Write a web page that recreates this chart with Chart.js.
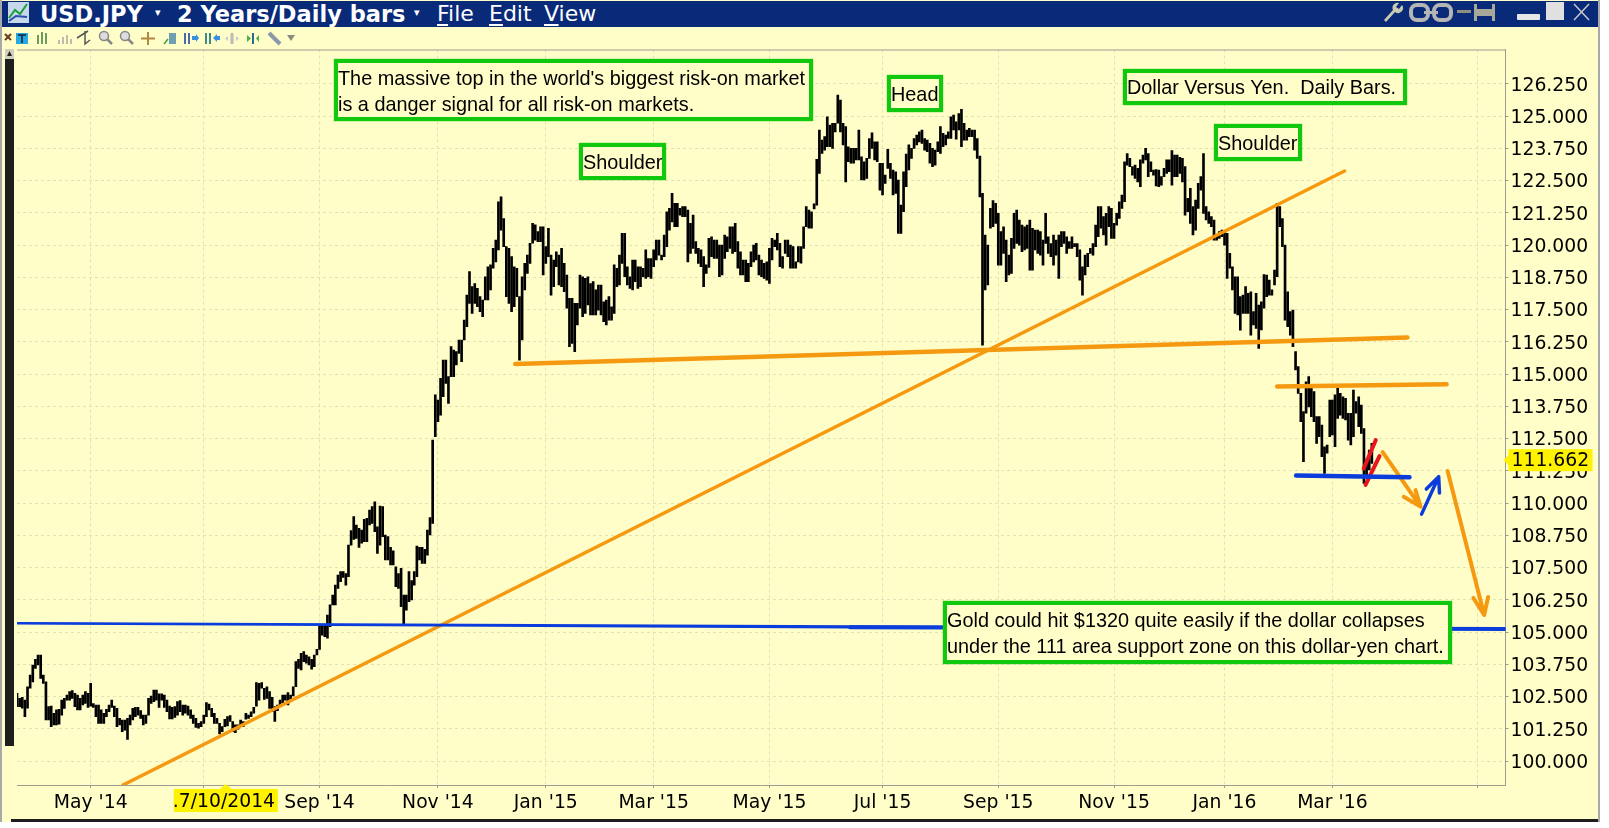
<!DOCTYPE html>
<html>
<head>
<meta charset="utf-8">
<title>USD.JPY</title>
<script src="https://cdn.jsdelivr.net/npm/chart.js@4"></script>
<style>
html,body{margin:0;padding:0;background:#fff;overflow:hidden;}
#win{position:absolute;left:0;top:0;width:1600px;height:822px;background:#FFFDC8;border-left:2px solid #a9a9a9;border-right:2px solid #a9a9a9;box-sizing:border-box;overflow:hidden;}
#bar{position:absolute;left:0;top:1px;width:1596px;height:26px;background:#082A78;color:#fff;font:bold 22.5px "DejaVu Sans";line-height:26px;white-space:nowrap;}
#bar span{position:absolute;top:0;}
#bar .menu{font-weight:normal;font-size:22px;}
#bar u{text-underline-offset:3px;}
#bar .arr{font-size:11px;top:-1px;}
#scroll{position:absolute;left:3px;top:49px;width:9px;height:697px;background:#1e1e1e;}
#bottom{position:absolute;left:9px;top:819px;width:1587px;height:3px;background:#1d1d1d;}
#chartBox{position:absolute;left:0;top:0;width:1609px;height:828px;}
.note{position:absolute;box-sizing:border-box;border:4px solid #10C80E;box-shadow:0 0 1px #10C80E;background:#FFFDC8;color:#000;font:19.85px "Liberation Sans";line-height:26px;padding:0;white-space:nowrap;}
</style>
</head>
<body>
<div id="win">
  <div id="bar">
    <span style="left:38px">USD.JPY</span>
    <span class="arr" style="left:153px">&#9662;</span>
    <span style="left:175px">2 Years/Daily bars</span>
    <span class="arr" style="left:412px">&#9662;</span>
    <span class="menu" style="left:435px"><u>F</u>ile</span>
    <span class="menu" style="left:487px"><u>E</u>dit</span>
    <span class="menu" style="left:542px"><u>V</u>iew</span>
  </div>
  <div id="scroll"></div>
  <div id="bottom"></div>
</div>
<svg style="position:absolute;left:0;top:0" width="1609" height="60">
  <!-- title bar icons -->
  <rect x="8" y="2" width="21" height="21" fill="#c8d8ec"/>
  <polyline points="9,18 15,10 20,14 27,4" fill="none" stroke="#1aa03a" stroke-width="2"/>
  <polyline points="9,21 16,16 27,17" fill="none" stroke="#2a50b0" stroke-width="2"/>
  <path d="M1384 20 l9 -10 a5 5 0 0 1 6 -7 l-3 4 3 2 3 -4 a5 5 0 0 1 -7 7 l-9 10z" fill="#c9c9b4"/>
  <rect x="1411" y="5" width="17" height="15" rx="6" fill="none" stroke="#b5b5b5" stroke-width="4"/>
  <rect x="1434" y="5" width="17" height="15" rx="6" fill="none" stroke="#b5b5b5" stroke-width="4"/>
  <rect x="1424" y="11" width="14" height="3" fill="#b5b5b5"/>
  <rect x="1457" y="10" width="14" height="3" fill="#8d8d80"/>
  <path d="M1474 4 h3 v5 h15 v-5 h3 v17 h-3 v-5 h-15 v5 h-3z" fill="#a8a898"/>
  <rect x="1517" y="14" width="23" height="6" rx="1" fill="#e6e6e6"/>
  <rect x="1546" y="2" width="18" height="18" fill="#e0e0e0"/>
  <path d="M1574 4 L1589 20 M1589 4 L1574 20" stroke="#c8c8c8" stroke-width="1.5"/>
  <!-- toolbar icons -->
  <path d="M5 34 L11 40 M11 34 L5 40" stroke="#6a3a20" stroke-width="2"/>
  <rect x="16" y="33" width="12" height="11" fill="#28a8e0"/>
  <path d="M18 35 h8 M22 35 v8" stroke="#123" stroke-width="1.5"/>
  <path d="M38 35 v9 M42 32 v12 M46 33 v11" stroke="#3d7d3d" stroke-width="1.5"/>
  <path d="M59 44 v-4 M63 44 v-7 M67 44 v-9 M71 44 v-5" stroke="#bdbdb0" stroke-width="2"/>
  <path d="M77 38 L88 31 M85 31 L85 44 L90 40" stroke="#555" stroke-width="1.5" fill="none"/>
  <circle cx="104" cy="36" r="4.5" fill="#ddd" stroke="#888" stroke-width="1.5"/><path d="M107 39 L112 44" stroke="#888" stroke-width="2.5"/>
  <circle cx="125" cy="36" r="4.5" fill="#ddd" stroke="#888" stroke-width="1.5"/><path d="M128 39 L133 44" stroke="#888" stroke-width="2.5"/>
  <path d="M141 38.5 h14 M148 32 v13" stroke="#b08840" stroke-width="2"/>
  <path d="M164 44 l4 -5" stroke="#3da03d" stroke-width="1.5"/><rect x="169" y="33" width="7" height="11" fill="#6f9fb0"/>
  <path d="M185 33 v11 M189 33 v11" stroke="#4a6ab0" stroke-width="2"/><path d="M192 36 h4 v-2 l3 4 -3 4 v-2 h-4z" fill="#3a90e0"/>
  <path d="M206 33 v11 M210 33 v11" stroke="#3a8a8a" stroke-width="2"/><path d="M220 36 h-3 v-2 l-4 4 4 4 v-2 h3z" fill="#3a90e0"/>
  <path d="M232 33 v11" stroke="#bbb" stroke-width="3"/><path d="M228 36 l-3 2.500 3 2.500z M236 36 l3 2.500 -3 2.500z" fill="#ccc"/>
  <path d="M253 33 v11" stroke="#2a6a90" stroke-width="2"/><path d="M247 35 l4 3.500 -4 3.500z M259 35 l-3 3.500 3 3.500z" fill="#4ab04a"/>
  <path d="M269 33 L280 44" stroke="#8a9aa8" stroke-width="4"/>
  <path d="M287 35 h8 l-4 6z" fill="#8a8a80"/>
  <!-- scrollbar end pieces -->
  <rect x="5" y="49" width="9" height="10" fill="#cfcfc0"/><path d="M7 56 l2.500 -5 2.500 5z" fill="#222"/>
  <rect x="5" y="741" width="9" height="9" fill="#9a9a92"/><path d="M7 743 l2.500 5 2.500 -5z" fill="#222"/>
  <path d="M9.500 754 v13" stroke="#2a8a9a" stroke-width="3"/><path d="M5 759 l4.500 -6 4.500 6z M5 762 l4.500 6 4.500 -6z" fill="#2a8a9a"/>
  <rect x="6" y="777" width="7" height="7" fill="#dedecf"/>
</svg>
<div id="chartBox"><canvas id="graphicFirst" width="1609" height="828"></canvas></div>

<div class="note" style="left:334px;top:59px;width:479px;height:62px;padding-top:2px">The massive top in the world's biggest risk-on market<br>is a danger signal for all risk-on markets.</div>
<div class="note" style="left:579px;top:143px;width:87px;height:37px;padding-top:2px">Shoulder</div>
<div class="note" style="left:887px;top:75px;width:56px;height:37px;padding-top:2px">Head</div>
<div class="note" style="left:1123px;top:69px;width:284px;height:36px;padding-top:1px">Dollar Versus Yen.&nbsp; Daily Bars.</div>
<div class="note" style="left:1214px;top:124px;width:88px;height:37px;padding-top:2px">Shoulder</div>
<div class="note" style="left:943px;top:601px;width:509px;height:63px;padding-top:2px">Gold could hit $1320 quite easily if the dollar collapses<br>under the 111 area support zone on this dollar-yen chart.</div>

<script>
//-----Variables
// daily bars, [high, low]
const bars2014a = [
[102.62,102.11],[102.43,102.11],[102.47,102.05],[102.36,101.72],[102.88,102.05],[103.33,102.82],[103.72,103.07],
[103.94,103.59],[104.11,103.72],[104.11,103.20],[103.33,103.01],[103.07,101.59],[102.11,101.59],[102.13,101.33],[101.85,101.40],
[101.98,101.40],[102.00,101.43],[102.36,101.78],[102.43,102.04],[102.56,102.36],[102.69,102.36],[102.73,102.43],[102.62,102.11],
[102.56,101.98],[102.43,101.98],[102.56,102.17],[102.69,102.23],[102.62,102.08],[103.01,102.13],[102.23,102.08],
[102.17,101.72],[102.17,101.46],[101.98,101.46],[101.85,101.46],[102.00,101.72],[102.17,101.91],[102.36,102.08],[102.13,101.72],
[102.04,101.33],[101.65,101.40],[101.59,101.14],[101.59,101.20],[101.65,100.84],[101.78,101.40],[102.04,101.59],[102.08,101.72],
[102.08,101.78],[101.95,101.65],[101.78,101.40],[101.78,101.46],[102.43,101.78],[102.52,102.23],[102.75,102.30],[102.75,102.36],
[102.60,102.08],[102.60,102.36],[102.56,102.08],[102.36,101.91],[102.13,101.63],[102.08,101.63],[102.11,101.69],[102.30,101.78],
[102.34,101.91],[102.17,101.78],[102.17,101.85],[102.13,101.78],[101.98,101.65],[101.78,101.46],[101.65,101.30],
[101.46,101.27],[101.53,101.33],[101.78,101.46],[102.26,101.72],[102.21,101.98],[102.04,101.72],[101.85,101.46],[101.65,101.46],
[101.46,101.05],[101.33,101.14],[101.62,101.33],[101.72,101.36],[101.76,101.53],[101.53,101.14],[101.40,101.10],[101.40,101.23],
[101.59,101.33],[101.53,101.33],[101.85,101.62],[101.78,101.65],[101.91,101.72],[102.08,101.85],[103.04,102.13],[103.01,102.36],
[103.04,102.82],[102.82,102.39],[102.88,102.43],[102.69,102.04],[102.47,101.91],[102.11,101.53],[102.17,101.95],[102.36,102.13],
[102.56,102.26],[102.56,102.36],[102.65,102.17],[102.56,102.36],[102.88,102.52],[103.85,102.88],[103.94,103.59],[104.17,103.53],
[104.24,103.85],[104.11,103.79],[104.04,103.72],[103.94,103.56],[104.11,103.66],[104.33,104.11],[105.23,104.33],[105.27,104.88],
[105.27,104.82],[105.66,104.76]
];
const bars2014b = [
[106.05,105.21],[106.43,106.05],[106.82,106.05],[107.21,106.69],[107.34,106.95],[107.34,107.12],[107.27,106.82],[108.37,107.15],
[108.93,108.37],[109.47,108.59],[109.15,108.63],[109.02,108.28],[108.95,108.44],[109.37,108.50],[109.41,108.50],[109.73,109.15],
[109.86,109.21],[110.05,108.89],[109.08,108.05],[109.88,108.37],[109.86,108.70],[108.76,107.79],[108.70,107.79],[108.28,107.60],
[108.15,107.60],[107.53,106.76],[107.27,106.69],[107.47,105.98],[106.43,105.27],[106.43,105.85],[107.34,106.18],[106.99,106.24],
[107.34,106.82],[108.33,107.15],[108.28,107.79],[108.28,107.66],[108.21,107.66],[108.95,107.98],[109.44,108.76],[112.44,109.21],
[114.19,112.57],[113.99,113.15],[114.83,113.41],[115.54,114.12],[115.54,114.64],[114.90,113.86],[116.06,114.90],[115.93,114.90],
[115.87,115.35],[116.32,115.80],[116.32,115.48]
];
const bars2015a = [
[117.09,116.32],[118.06,116.84],[118.97,117.74],[118.39,117.35],[118.51,117.74],[118.32,117.61],[118.00,117.42],[117.87,117.22],
[118.77,117.87],[119.16,117.87],[119.23,118.26],[119.87,119.10],[120.19,119.35],[121.68,119.81],[121.87,120.58],[121.03,119.94],
[119.94,118.00],[119.87,117.74],[119.55,117.42],[119.16,117.61],[119.10,118.00],[118.00,115.54],[118.77,116.32],[119.29,118.26],
[119.61,118.90],[120.07,119.29],[120.84,120.07],[120.78,120.19],[120.52,120.13],[120.71,120.13],[120.71,118.84],[119.94,119.29],
[120.65,119.55],[119.61,118.06],[119.42,118.39],[119.74,119.16],[119.61,118.45],[119.87,118.39],[119.29,118.19],[118.84,117.55],
[117.93,116.06],[117.93,116.19],[117.74,115.87],[117.74,116.90],[118.84,117.55],[118.77,117.22],[118.71,117.35],[118.77,117.68],
[118.51,117.29],[118.58,117.29],[118.26,117.29],[118.45,117.48],[118.45,117.29],[117.80,117.03],[117.87,116.90],[118.00,117.09],
[117.61,117.09],[119.23,117.35],[119.10,118.39],[119.61,118.45],[120.45,119.29],[120.45,118.77],[119.16,118.45],[118.77,118.32],
[119.42,118.26],[119.42,118.58],[119.16,118.32],[119.16,118.39],[119.10,118.77],[119.81,118.71],[119.48,118.77],[119.48,118.71],
[119.81,119.16],[120.19,119.42],[120.19,119.61],[119.61,119.42],[120.39,119.55],[121.29,119.94],[121.42,120.58],[122.00,120.90],
[121.62,120.71],[121.62,120.71],[121.42,121.16],[121.49,121.10],[121.49,121.10],[121.36,119.35],[120.84,119.68],[121.16,119.87],
[120.13,119.68],[119.87,119.29],[119.81,119.16],[119.55,118.39],[119.23,118.90],[120.26,119.13],[120.32,119.55],[120.19,119.48],
[120.19,119.48],[120.00,118.77],[120.00,118.84],[120.39,119.48],[120.32,119.74],[120.71,119.87],[120.71,119.68],[120.84,119.74],
[120.13,119.10],[119.74,118.84],[119.42,118.84],[119.42,118.58],[119.29,118.58],[119.74,119.16],[120.00,119.35],[120.07,119.42],
[119.61,118.84],[119.42,118.77],[119.29,118.71],[119.35,118.64],[119.87,118.51],[120.26,119.42],[120.19,119.94],[120.45,119.81],
[120.07,119.16],[119.55,119.10],[120.19,119.68],[120.19,119.55],[120.00,119.10],[119.94,119.10],[119.35,119.10],[119.94,119.35],
[119.94,119.30]
];
const bars2015b = [
[120.71,119.87],[121.49,120.71],[121.36,120.65],[121.29,120.65],[121.60,121.40],[123.32,121.55],[124.46,122.78],[124.07,123.55],
[124.20,123.68],[124.97,123.81],[124.65,123.81],[124.72,123.75],[124.72,124.39],[125.81,124.72],[125.62,124.39],[124.72,123.88],
[124.59,122.45],[123.81,123.23],[123.75,123.17],[123.75,123.17],[123.75,123.30],[124.46,123.30],[123.42,122.52],[123.23,122.52],
[123.36,122.58],[124.13,123.36],[124.35,123.75],[124.00,123.30],[124.00,123.23],[123.17,122.13],[123.17,121.94],[122.71,122.39],
[123.71,122.97],[123.17,122.58],[122.91,121.94],[122.84,122.00],[122.52,120.45],[121.55,120.45],[122.84,121.29],[123.53,122.26],
[123.88,122.91],[123.75,123.36],[124.13,123.75],[124.26,123.88],[124.39,124.00],[124.46,123.94],[124.13,123.68],[124.07,123.62],
[123.94,123.17],[123.75,123.04],[123.68,123.10],[124.00,123.62],[124.59,123.55],[124.33,123.81],[124.26,123.88],[124.39,124.13],
[124.97,124.13],[125.04,124.46],[124.78,124.10],[125.10,124.46],[125.26,123.81],[124.72,124.07],[124.46,124.07],[124.52,124.20],
[124.46,124.20],[124.46,123.68],[124.13,123.36],[123.45,121.87],[122.00,116.12],[120.39,118.26],[120.00,118.45],[121.42,120.65],
[121.72,120.71],[121.62,120.84],[121.23,119.22],[120.52,119.22],[120.71,119.68],[120.19,118.58],[119.61,118.84],[120.26,118.90],
[121.23,119.87],[121.36,120.06],[120.97,120.00],[120.77,119.74],[120.71,119.81],[120.77,119.87],[120.97,119.03],[120.65,119.03],
[120.58,119.81],[120.58,119.68],[120.52,119.61],[120.19,119.22],[121.23,120.06],[120.32,119.68],[120.06,119.55],[120.39,119.22],
[120.19,119.61],[120.39,118.71],[120.52,119.94],[120.52,120.06],[120.32,119.68],[120.13,119.87],[120.32,119.87],[120.06,119.94],
[120.06,119.55],[119.81,118.64],[119.16,118.06],[119.61,118.84],[119.68,119.16],[119.87,119.68],[120.06,119.61],[120.77,119.94],
[121.49,120.32],[121.49,120.65],[121.10,120.39],[121.23,120.00],[121.49,120.71],[121.42,120.26],[120.84,120.26],[121.23,120.77],
[121.68,121.03],[121.94,121.42],[123.23,121.68],[123.55,123.10],[123.36,123.04],[123.04,122.71],[123.10,122.58],[122.97,122.45],
[123.30,122.26],[123.49,123.17],[123.75,123.30],[123.55,122.65],[123.23,122.84],[122.91,122.71],[122.93,122.29],[122.91,122.26],
[122.65,122.32],[122.97,122.65],[123.30,122.78],[123.30,122.84],[123.66,122.32],[123.49,122.65],[123.49,122.65],[123.40,122.78],
[123.36,122.45],[123.04,121.16],[121.81,121.29],[122.20,120.84],[121.49,120.39],[121.74,120.58],[122.39,121.42],[122.65,122.13],
[123.55,121.23],[121.49,120.97],[121.29,120.84],[121.10,120.71],[120.97,120.19],[120.39,120.19],[120.52,120.26],[120.58,120.32],
[120.52,120.00],[120.45,118.71],[119.68,119.10],[119.16,118.26],[118.77,117.35],[118.77,117.29],[118.00,116.70],[118.06,117.35],
[118.39,117.35],[118.13,117.35]
];
const bars2016 = [
[118.19,116.51],[117.42,116.90],[118.13,116.77],[117.67,115.99],[117.80,116.71],[118.86,117.55],[118.84,118.00],[118.64,118.06],
[118.26,118.06],[119.03,118.45],[121.62,118.77],[121.49,120.71],[121.03,119.94],[120.00,117.09],[118.19,116.84],[117.42,116.51],
[117.48,116.06],[115.87,115.16],[115.29,114.25],[114.25,113.15],[113.54,111.60],[114.70,113.48],[114.90,113.73],
[114.45,113.35],[114.32,113.15],[113.35,112.31],[113.35,112.57],[113.02,111.80],[112.18,111.15],[112.25,111.93],[113.99,112.57],
[113.99,112.64],[114.19,112.18],[114.45,113.28],[114.25,113.41],[114.12,113.28],[114.06,113.22],[113.48,112.44],[113.48,112.25],
[114.38,112.57],[113.93,113.48],[114.12,112.96],[113.80,112.70],[112.89,110.76],[111.67,111.09],[112.05,111.28],
[112.31,111.54]
];
const dailyBars = [].concat(bars2014a, bars2014b, bars2015a, bars2015b, bars2016);

const lastPrice = 111.662;
const priceTicks = [100,101.25,102.5,103.75,105,106.25,107.5,108.75,110,111.25,112.5,113.75,115,116.25,117.5,118.75,120,121.25,122.5,123.75,125,126.25];
const dateTicks = [28,71,115,160,201,242,286,329,373,417,459,500,555];
const dateLabels = ["May '14","","Sep '14","Nov '14","Jan '15","Mar '15","May '15","Jul '15","Sep '15","Nov '15","Jan '16","Mar '16",""];
const cursorDate = 71;

// hand drawn lines on the chart, [bar number, price]
const riseLine = [[40.3,99.07],[504.6,122.87]];
const necklineLine = [[189.4,115.39],[528.5,116.42]];
const flagTopLine = [[479,114.52],[543.4,114.6]];
const supportLine = [[486.2,111.07],[529.3,111.0]];
const blueUpperLine = [[0,105.35],[565.8,105.12]];
const blueLowerLine = [[0,105.33],[316.7,105.18]];
const blueRightLine = [[316.7,105.18],[565.8,105.12]];
const redMarkA = [[511.9,111.34],[516.5,112.44]];
const redMarkB = [[512.6,110.7],[517.9,111.82]];
const arrowDownA = [[519.1,111.97],[533.5,109.86],[527.1,110.24],[533.5,109.86],[531.6,110.5]];
const arrowUp = [[533.9,109.57],[540.4,111.02],[535.7,110.54],[540.4,111.02],[540.7,110.39]];
const arrowDownB = [[543.8,111.24],[557.7,105.66],[553.6,106.32],[557.7,105.66],[559.2,106.36]];

const ORANGE = '#F59A10';
const BLUE = '#0B3CDC';
const RED = '#E8141E';
const GRID = '#E2E1B8';
const AXIS = '#9c9c90';

function lineSet(points, color, width){
  return {
    type:'line',
    data:points.map(p => ({x:p[0], y:p[1]})),
    borderColor:color,
    borderWidth:width,
    pointRadius:0,
    tension:0,
    fill:false,
    borderCapStyle:'round',
    borderJoinStyle:'round',
    order:1,
  };
}

//-----yellow price flag, yellow date flag and the top border of the plot
const flagsPlugin = {
  id:'flags',
  afterDraw(chart){
    const ctx = chart.ctx, area = chart.chartArea;
    ctx.save();
    ctx.strokeStyle = AXIS;
    ctx.lineWidth = 1;
    ctx.beginPath();
    ctx.moveTo(area.left, area.top+0.5);
    ctx.lineTo(area.right, area.top+0.5);
    ctx.stroke();

    let y = chart.scales.y.getPixelForValue(lastPrice);
    ctx.fillStyle = '#FFF200';
    ctx.fillRect(area.right+3, y-11, 84, 22);
    ctx.beginPath();
    ctx.moveTo(area.right-2, y);
    ctx.lineTo(area.right+4, y-6);
    ctx.lineTo(area.right+4, y+6);
    ctx.fill();
    ctx.fillStyle = '#000';
    ctx.font = '18.8px "DejaVu Sans"';
    ctx.textBaseline = 'middle';
    ctx.textAlign = 'left';
    ctx.fillText(lastPrice.toFixed(3), area.right+6, y+1);

    let x = chart.scales.x.getPixelForValue(cursorDate);
    ctx.fillStyle = '#FFF200';
    ctx.fillRect(x-30, area.bottom+4, 104, 23);
    ctx.beginPath();
    ctx.moveTo(x+22, area.bottom-1);
    ctx.lineTo(x+15, area.bottom+5);
    ctx.lineTo(x+29, area.bottom+5);
    ctx.fill();
    ctx.fillStyle = '#000';
    ctx.fillText('.7/10/2014', x-31, area.bottom+17);
    ctx.restore();
  }
};

//-----GRAPHIC
let chart1;
function drawGraphicFirst(){
  var ctx = document.getElementById('graphicFirst').getContext('2d');
  chart1 = new Chart(ctx, {
    type:'bar',
    data:{
      datasets:[
        lineSet(blueRightLine, BLUE, 4),
        lineSet(blueUpperLine, BLUE, 2.2),
        lineSet(blueLowerLine, BLUE, 2.2),
        lineSet(riseLine, ORANGE, 3.5),
        lineSet(necklineLine, ORANGE, 4.5),
        lineSet(flagTopLine, ORANGE, 4.5),
        lineSet(supportLine, BLUE, 4.5),
        lineSet(redMarkA, RED, 4),
        lineSet(redMarkB, RED, 4),
        lineSet(arrowDownA, ORANGE, 4),
        lineSet(arrowUp, BLUE, 3.5),
        lineSet(arrowDownB, ORANGE, 4),
        {
          type:'bar',
          data:dailyBars.map((b, i) => ({x:i, y:[b[1], b[0]]})),
          backgroundColor:'#000',
          barThickness:2,
          order:5,
        },
      ],
    },
    options:{
      responsive:false,
      animation:false,
      events:[],
      layout:{padding:{left:17, top:49.5, right:10, bottom:0}},
      plugins:{legend:{display:false}, tooltip:{enabled:false}},
      scales:{
        x:{
          type:'linear',
          offset:false,
          min:0,
          max:565.8,
          afterBuildTicks(scale){ scale.ticks = dateTicks.map(v => ({value:v})); },
          afterFit(scale){ scale.height = 43; },
          grid:{color:GRID, tickColor:AXIS, tickLength:3, offset:false},
          border:{color:AXIS, dash:[3,3]},
          ticks:{
            autoSkip:false, maxRotation:0, padding:4, color:'#000',
            font:{family:'"DejaVu Sans"', size:18.8},
            callback(v){ let k = dateTicks.indexOf(v); return k < 0 ? '' : dateLabels[k]; },
          },
        },
        y:{
          position:'right',
          min:99.07,
          max:127.58,
          afterBuildTicks(scale){ scale.ticks = priceTicks.map(v => ({value:v})); },
          afterFit(scale){ scale.width = 93.5; },
          grid:{color:GRID, tickColor:AXIS, tickLength:3},
          border:{color:AXIS, dash:[3,3]},
          ticks:{
            autoSkip:false, padding:2, labelOffset:2, color:'#000',
            font:{family:'"DejaVu Sans"', size:18.8},
            callback(v){ return Number(v).toFixed(3); },
          },
        },
      },
    },
    plugins:[flagsPlugin],
  });
}

window.onload = function(){
  drawGraphicFirst();
}
</script>
</body>
</html>
